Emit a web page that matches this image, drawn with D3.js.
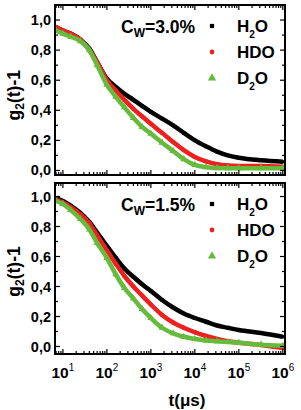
<!DOCTYPE html>
<html>
<head>
<meta charset="utf-8">
<script src="https://cdn.jsdelivr.net/npm/d3@7"></script>
<style>
  body { margin: 0; background: #fff; }
  text { font-family: "Liberation Sans", Arial, sans-serif; font-weight: bold; }
</style>
</head>
<body>
<div class="canvas"></div>
<script>
'use strict';

// correlation times (µs) sampled off the curves
const tVals = [7, 10, 15, 25, 40, 60, 100, 160, 250, 400, 630, 1000, 1800, 3200, 5600,
    10000, 18000, 32000, 56000, 100000, 320000, 1000000];

// Cw = 3.0 %
const h2oTop = [0.95, 0.93, 0.91, 0.87, 0.81, 0.72, 0.61, 0.555, 0.51, 0.47, 0.43, 0.39, 0.345, 0.30, 0.25,
    0.20, 0.16, 0.125, 0.10, 0.085, 0.068, 0.058];
const hdoTop = [0.955, 0.93, 0.91, 0.87, 0.80, 0.72, 0.60, 0.53, 0.47, 0.41, 0.36, 0.31, 0.25, 0.19, 0.135,
    0.09, 0.06, 0.042, 0.033, 0.03, 0.03, 0.025];
const d2oTop = [0.93, 0.91, 0.89, 0.86, 0.80, 0.70, 0.57, 0.49, 0.42, 0.35, 0.29, 0.245, 0.185, 0.13, 0.075,
    0.037, 0.022, 0.016, 0.015, 0.015, 0.015, 0.015];

// Cw = 1.5 %
const h2oBot = [0.99, 0.97, 0.94, 0.89, 0.83, 0.76, 0.67, 0.59, 0.52, 0.465, 0.415, 0.37, 0.31, 0.26, 0.22,
    0.19, 0.165, 0.14, 0.125, 0.11, 0.09, 0.065];
const hdoBot = [0.98, 0.96, 0.93, 0.88, 0.82, 0.74, 0.64, 0.55, 0.47, 0.40, 0.34, 0.28, 0.21, 0.16, 0.125,
    0.095, 0.07, 0.05, 0.035, 0.025, 0.01, -0.01];
const d2oBot = [0.97, 0.95, 0.91, 0.85, 0.78, 0.69, 0.59, 0.48, 0.39, 0.32, 0.25, 0.19, 0.125, 0.088, 0.065,
    0.05, 0.04, 0.035, 0.03, 0.025, 0.012, 0.005];

const yTicks = [0, 0.2, 0.4, 0.6, 0.8, 1.0];
const xExponents = [1, 2, 3, 4, 5, 6];
const seriesNames = ['H', 'HDO', 'D'];

const colours = { H: '#000000', HDO: '#ee2020', D: '#66bb3c' };

const dims = { width: 301, height: 410, left: 55, right: 285 };

const svg = d3.select('.canvas')
    .append('svg')
    .attr('width', dims.width)
    .attr('height', dims.height);

const x = d3.scaleLog()
    .domain([Math.pow(10, 0.82), Math.pow(10, 6.05)])
    .range([dims.left, dims.right]);

const minorX = x.ticks().filter(t => {
    const e = Math.log10(t);
    return Math.abs(e - Math.round(e)) > 1e-6;
});
const majorX = xExponents.map(e => Math.pow(10, e));

const symbolFor = name => {
    if (name === 'H') return d3.symbol().type(d3.symbolSquare).size(11);
    if (name === 'HDO') return d3.symbol().type(d3.symbolCircle).size(15);
    return d3.symbol().type(d3.symbolTriangle).size(22);
};

const drawPanel = (top, bottom, yDomain, values, cw, showX) => {

    const y = d3.scaleLinear().domain(yDomain).range([bottom, top]);
    const g = svg.append('g');

    const clipId = 'clip' + top;
    svg.append('clipPath').attr('id', clipId)
        .append('rect')
        .attr('x', dims.left).attr('y', top)
        .attr('width', dims.right - dims.left).attr('height', bottom - top);

    const plot = g.append('g').attr('clip-path', `url(#${clipId})`);

    const line = d3.line()
        .x((d, i) => x(tVals[i]))
        .y(d => y(d))
        .curve(d3.curveMonotoneX);

    seriesNames.forEach((name, k) => {
        const vals = values[k];
        plot.append('path')
            .attr('d', line(vals))
            .attr('fill', 'none')
            .attr('stroke', colours[name])
            .attr('stroke-width', 4.5);

        plot.selectAll(null)
            .data(vals)
            .enter().append('path')
            .attr('d', symbolFor(name))
            .attr('transform', (d, i) => `translate(${x(tVals[i])},${y(d)})`)
            .attr('fill', colours[name]);
    });

    // frame
    g.append('rect')
        .attr('x', dims.left).attr('y', top)
        .attr('width', dims.right - dims.left).attr('height', bottom - top)
        .attr('fill', 'none').attr('stroke', '#000').attr('stroke-width', 2);

    // x ticks, bottom and top, inward
    const tickMarks = (list, len) => {
        list.forEach(t => {
            const px = x(t);
            g.append('line').attr('x1', px).attr('x2', px)
                .attr('y1', bottom).attr('y2', bottom - len)
                .attr('stroke', '#000').attr('stroke-width', 1.2);
            g.append('line').attr('x1', px).attr('x2', px)
                .attr('y1', top).attr('y2', top + len)
                .attr('stroke', '#000').attr('stroke-width', 1.2);
        });
    };
    tickMarks(majorX, 5);
    tickMarks(minorX, 3);

    // y ticks, left and right, inward
    const yMinor = d3.range(0.1, 1.05, 0.2);
    [[yTicks, 5], [yMinor, 3]].forEach(([list, len]) => {
        list.forEach(v => {
            const py = y(v);
            g.append('line').attr('x1', dims.left).attr('x2', dims.left + len)
                .attr('y1', py).attr('y2', py).attr('stroke', '#000').attr('stroke-width', 1.2);
            g.append('line').attr('x1', dims.right).attr('x2', dims.right - len)
                .attr('y1', py).attr('y2', py).attr('stroke', '#000').attr('stroke-width', 1.2);
        });
    });

    g.selectAll(null)
        .data(yTicks)
        .enter().append('text')
        .attr('x', dims.left - 4)
        .attr('y', d => y(d) + 5)
        .attr('text-anchor', 'end')
        .attr('font-size', 14.5)
        .text(d => d3.format('.1f')(d).replace('.', ','));

    // y label
    const midY = (y(0) + y(1)) / 2;
    const yl = g.append('text')
        .attr('transform', `translate(20,${midY}) rotate(-90)`)
        .attr('text-anchor', 'middle')
        .attr('font-size', 17.5);
    yl.append('tspan').text('g');
    yl.append('tspan').attr('font-size', 12).attr('dy', 4).text('2');
    yl.append('tspan').attr('dy', -4).text('(t)-1');

    // concentration label
    const c = g.append('text')
        .attr('x', 121).attr('y', top + 28)
        .attr('font-size', 17.5);
    c.append('tspan').text('C');
    c.append('tspan').attr('font-size', 12).attr('dy', 4).text('W');
    c.append('tspan').attr('dy', -4).text('=' + cw + '%');

    // legend
    const rows = [
        { name: 'H', pre: 'H', sub: '2', post: 'O' },
        { name: 'HDO', pre: 'HDO', sub: '', post: '' },
        { name: 'D', pre: 'D', sub: '2', post: 'O' }
    ];
    rows.forEach((r, i) => {
        const ry = top + 21 + i * 26;
        g.append('path')
            .attr('d', symbolFor(r.name).size(r.name === 'D' ? 30 : 18)())
            .attr('transform', `translate(212,${ry})`)
            .attr('fill', colours[r.name]);
        const t = g.append('text')
            .attr('x', 237).attr('y', ry + 6)
            .attr('font-size', 17);
        t.append('tspan').text(r.pre);
        if (r.sub) {
            t.append('tspan').attr('font-size', 10).attr('dy', 6).text(r.sub);
            t.append('tspan').attr('dy', -6).text(r.post);
        }
    });

    if (showX) {
        majorX.forEach((t, i) => {
            const lbl = g.append('text')
                .attr('x', x(t)).attr('y', bottom + 24)
                .attr('text-anchor', 'middle')
                .attr('font-size', 15.5);
            lbl.append('tspan').text('10');
            lbl.append('tspan').attr('font-size', 10).attr('font-weight', 'normal')
                .attr('dy', -7).text(xExponents[i]);
        });
        g.append('text')
            .attr('x', 187).attr('y', 406)
            .attr('text-anchor', 'middle')
            .attr('font-size', 17)
            .text('t(\u03bcs)');
    }
};

drawPanel(5, 175, [-0.03, 1.1], [h2oTop, hdoTop, d2oTop], '3.0', false);
drawPanel(183, 354, [-0.05, 1.09], [h2oBot, hdoBot, d2oBot], '1.5', true);
</script>
</body>
</html>
